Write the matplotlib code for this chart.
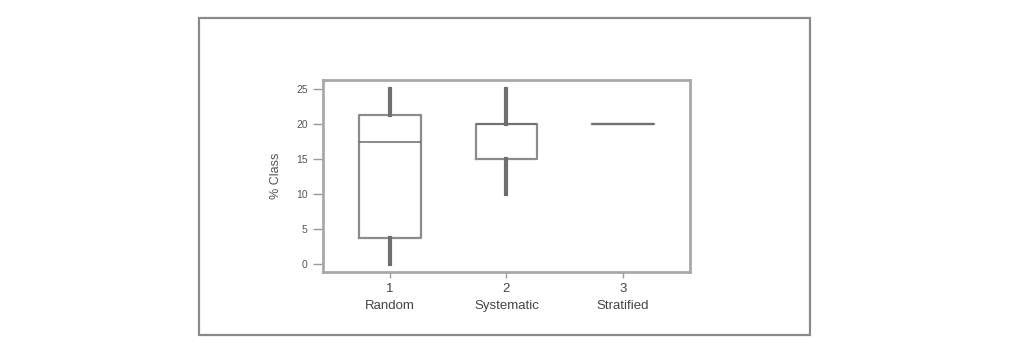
import matplotlib.pyplot as plt
from matplotlib.patches import Rectangle

plt.rcParams['font.family'] = ['Liberation Sans', 'DejaVu Sans']

# Data (% Class by sampling method)
groups = ["Random", "Systematic", "Stratified"]
positions = [1, 2, 3]
whislo = [0, 10, 20]
q1 = [3.7, 15, 20]
med = [17.5, 20, 20]
q3 = [21.3, 20, 20]
whishi = [25, 25, 20]
yticks = [0, 5, 10, 15, 20, 25]

fig = plt.figure(figsize=(10.16, 3.52), dpi=100)

# outer frame around the figure panel
fig.patches.append(Rectangle((0.196, 0.048), 0.601, 0.901, transform=fig.transFigure,
                             fill=False, edgecolor="#8a8a8a", linewidth=1.6))

ax = fig.add_axes([0.318, 0.227, 0.361, 0.545])

stats = []
for i in range(len(groups)):
    stats.append(dict(label=str(positions[i]), whislo=whislo[i], q1=q1[i], med=med[i],
                      q3=q3[i], whishi=whishi[i], fliers=[]))

ax.bxp(stats, positions=positions, widths=0.53, showcaps=False, showfliers=False,
       boxprops=dict(color="#8c8c8c", linewidth=1.6),
       whiskerprops=dict(color="#6e6e6e", linewidth=3),
       medianprops=dict(color="#6a6a6a", linewidth=1.1))

ax.set_xlim(0.425, 3.575)
ax.set_ylim(-1.15, 26.3)
ax.set_yticks(yticks)
ax.set_yticklabels([str(v) for v in yticks], fontsize=7.5, color="#555555")
ax.set_xticks(positions)
ax.set_xticklabels([f"{p}\n{g}" for p, g in zip(positions, groups)],
                   fontsize=9.5, color="#444444", linespacing=1.5)
ax.tick_params(axis="y", length=7, width=1, color="#999999", pad=4)
ax.tick_params(axis="x", length=4, width=1, color="#999999", pad=4)
ax.set_ylabel("% Class", fontsize=9, color="#555555", labelpad=10)

for s in ax.spines.values():
    s.set_color("#a8a8a8")
    s.set_linewidth(2)

fig.savefig("out.png", dpi=100)
